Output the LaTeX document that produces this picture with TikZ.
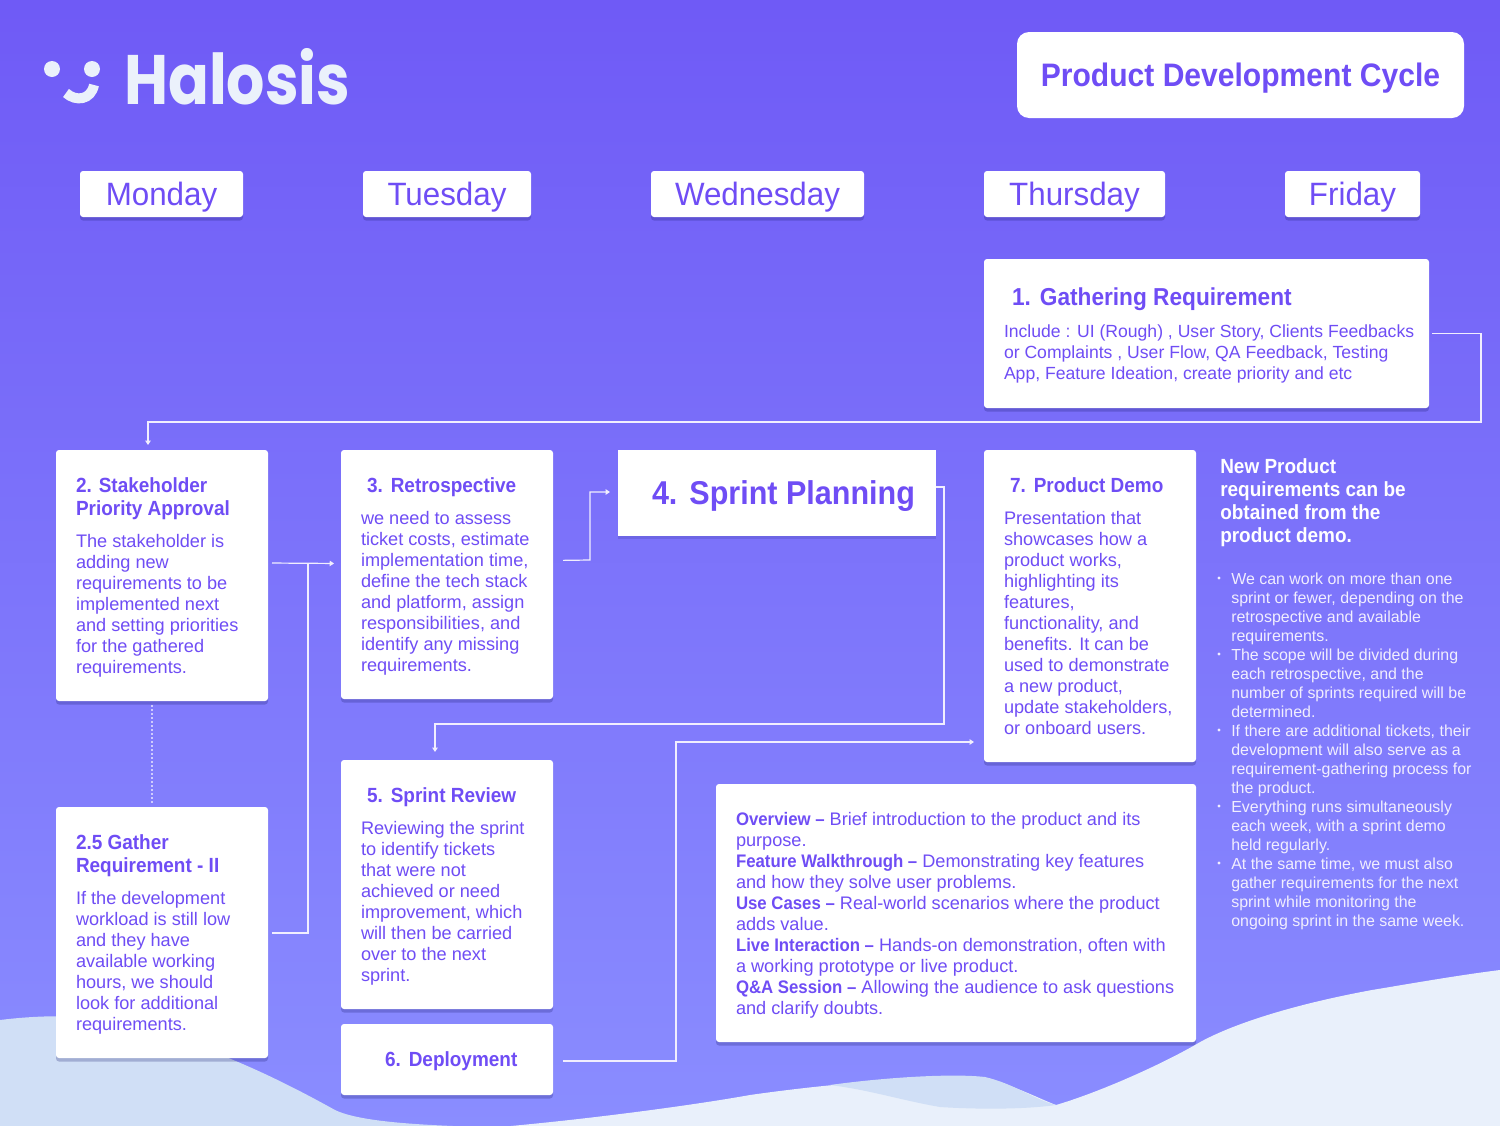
\documentclass[tikz,border=0pt]{standalone}
\usepackage{fontspec}
\usetikzlibrary{shadows,arrows.meta}
\setmainfont{Liberation Sans}[BoldFeatures={FakeStretch=0.925}]
\newfontfamily\logofont{Poppins}[FakeStretch=0.86]
\newfontfamily\dayfont{Liberation Sans}[FakeStretch=0.97]
\newdimen\px \px=0.75pt
\definecolor{bgtop}{HTML}{6F5AF6}
\definecolor{bgbot}{HTML}{8A8DFF}
\definecolor{inkv}{HTML}{6F4DF5}
\definecolor{waveA}{HTML}{D0DFF6}
\definecolor{waveB}{HTML}{E9F0FB}
\definecolor{logoc}{HTML}{EBF1FB}
\definecolor{shadowc}{HTML}{1E1E70}
\tikzset{
  x=0.75pt,y=-0.75pt,
  cardbase/.style={anchor=north west,inner sep=0pt,outer sep=0pt,fill=white,text=inkv},
  softshadow/.style={rounded corners=3\px,general shadow={fill=shadowc,fill opacity=.26,shadow yshift=-3.5\px,rounded corners=3\px}},
  cardextra/.style={softshadow},
  daybox/.style={cardbase,softshadow,align=center},
  conn/.style={draw=white!90!bgtop,line width=1.2\px},
  connarrow/.style={conn,-{Triangle[length=3.2pt,width=4pt]}},
}
% \cardnode{name}{x1}{y1}{x2}{y2}{left pad}{content}
\newcommand\cardnode[7]{%
  \pgfmathsetmacro\cw{#4-#2}\pgfmathsetmacro\ch{#5-#3}%
  \node[cardbase,cardextra] (#1) at (#2,#3) {\parbox[c][\ch\px][t]{\cw\px}{\parindent=0pt\parskip=0pt\leftskip=#6\px\rightskip=0pt plus 1fil\relax #7}};}
\newcommand\ttl[2]{{\fontsize{#1\px}{23\px}\selectfont\bfseries #2\par}}
\newcommand\bdy[1]{{\fontsize{18.15\px}{21\px}\selectfont #1\par}}
\newcommand\bdya[1]{{\fontsize{17.6\px}{21\px}\selectfont #1\par}}
\newcommand\first[1]{\rule{0pt}{#1\px}}
\newcommand\gap{\vspace{11\px}}
\newcommand\sep[1]{\hspace*{#1\px}}
\begin{document}
\begin{tikzpicture}
\useasboundingbox (0,0) rectangle (1500,1125);
\shade[top color=bgtop,bottom color=bgbot] (-2,-2) rectangle (1502,1127);
% waves
\fill[waveA] (0,1020) .. controls (40,1015) and (120,1010) .. (180,1040) .. controls (240,1060) and (290,1085) .. (335,1110) .. controls (360,1122) and (420,1125) .. (480,1127) -- (0,1127) -- cycle;
\fill[waveB] (500,1127) .. controls (600,1118) and (700,1104) .. (750,1095) .. controls (820,1085) and (900,1078) .. (960,1077) .. controls (1000,1077) and (1030,1095) .. (1056,1105) .. controls (1100,1092) and (1160,1065) .. (1195,1045) .. controls (1225,1027) and (1285,1006) .. (1372,990) .. controls (1420,982) and (1460,975) .. (1500,970) -- (1500,1127) -- cycle;
\fill[waveA] (830,1085) .. controls (880,1078) and (950,1073) .. (985,1077) .. controls (1015,1084) and (1035,1100) .. (1056,1105) .. controls (1020,1110) and (970,1109) .. (940,1107) .. controls (900,1100) and (870,1090) .. (830,1085) -- cycle;
% logo
\fill[logoc] (52,69) circle[radius=8];
\fill[logoc] (92,69) circle[radius=8];
\draw[logoc,line width=10\px] (66,93) .. controls (76,102) and (91,100) .. (94,85);
\node[text=logoc,anchor=base west,inner sep=0pt,font=\logofont\bfseries\fontsize{70\px}{70\px}\selectfont] (logo) at (124,104) {Halosis};
% title
\node[anchor=north west,fill=white,rounded corners=12\px,inner sep=0pt,outer sep=0pt,minimum width=447\px,text height=54\px,text depth=32\px,text=inkv,font=\bfseries\fontsize{32.5\px}{36\px}\selectfont] (title) at (1017,32) {Product Development Cycle};
% days
\foreach \nm/\xa/\xb/\lbl in {mon/80/243/Monday,tue/363/531/Tuesday,wed/651/864/Wednesday,thu/984/1165/Thursday,fri/1285/1420/Friday}{
  \pgfmathsetmacro\dw{\xb-\xa}
  \node[daybox,minimum width=\dw\px,text height=34\px,text depth=12\px,font=\dayfont\fontsize{32.3\px}{36\px}\selectfont] (\nm) at (\xa,171) {\lbl};
}
% cards
\cardnode{c1}{984}{259}{1429}{408}{20}{\ttl{24.5}{\first{46}\sep{8}1.\sep{9}Gathering Requirement}\gap
 \bdya{Include : UI (Rough) , User Story, Clients Feedbacks\\or Complaints , User Flow, QA Feedback, Testing\\App, Feature Ideation, create priority and etc}}
\cardnode{c2}{56}{450}{268}{701}{20}{\ttl{20.5}{\first{42}2. Stakeholder\\Priority Approval}\gap
 \bdy{The stakeholder is\\adding new\\requirements to be\\implemented next\\and setting priorities\\for the gathered\\requirements.}}
\cardnode{c25}{56}{807}{268}{1058}{20}{\ttl{20.5}{\first{42}2.5 Gather\\Requirement - II}\gap
 \bdy{If the development\\workload is still low\\and they have\\available working\\hours, we should\\look for additional\\requirements.}}
\cardnode{c3}{341}{450}{553}{699}{20}{\ttl{20.5}{\first{42}\sep{6}3.\sep{8}Retrospective}\gap
 \bdy{we need to assess\\ticket costs, estimate\\implementation time,\\define the tech stack\\and platform, assign\\responsibilities, and\\identify any missing\\requirements.}}
\begin{scope}
\tikzset{cardextra/.style={general shadow={fill=shadowc,fill opacity=.15,shadow yshift=-3\px}}}
\cardnode{c4}{618}{450}{936}{536}{34}{\ttl{33}{\first{54}4.\sep{12}Sprint Planning}}
\end{scope}
\cardnode{c7}{984}{450}{1196}{762}{20}{\ttl{20.5}{\first{42}\sep{6}7.\sep{8}Product Demo}\gap
 \bdy{Presentation that\\showcases how a\\product works,\\highlighting its\\features,\\functionality, and\\benefits. It can be\\used to demonstrate\\a new product,\\update stakeholders,\\or onboard users.}}
\cardnode{c5}{341}{760}{553}{1009}{20}{\ttl{20.5}{\first{42}\sep{6}5.\sep{8}Sprint Review}\gap
 \bdy{Reviewing the sprint\\to identify tickets\\that were not\\achieved or need\\improvement, which\\will then be carried\\over to the next\\sprint.}}
\cardnode{c6}{341}{1024}{553}{1095}{44}{\ttl{20.5}{\first{42}6.\sep{8}Deployment}}
\cardnode{ov}{716}{784}{1196}{1042}{20}{\bdy{\first{41}\textbf{Overview --} Brief introduction to the product and its\\purpose.\\\textbf{Feature Walkthrough --} Demonstrating key features\\and how they solve user problems.\\\textbf{Use Cases --} Real-world scenarios where the product\\adds value.\\\textbf{Live Interaction --} Hands-on demonstration, often with\\a working prototype or live product.\\\textbf{Q\&A Session --} Allowing the audience to ask questions\\and clarify doubts.}}
% side text
\node[anchor=base west,inner sep=0pt,text=white,align=left,font=\bfseries\fontsize{20.5\px}{23\px}\selectfont] (side) at (1220,542) {New Product\\requirements can be\\obtained from the\\product demo.};
\node[anchor=base west,inner sep=0pt,text=white!90!bgtop,align=left,font=\fontsize{15.95\px}{19\px}\selectfont] (notes) at (1231,926) {We can work on more than one\\sprint or fewer, depending on the\\retrospective and available\\requirements.\\The scope will be divided during\\each retrospective, and the\\number of sprints required will be\\determined.\\If there are additional tickets, their\\development will also serve as a\\requirement-gathering process for\\the product.\\Everything runs simultaneously\\each week, with a sprint demo\\held regularly.\\At the same time, we must also\\gather requirements for the next\\sprint while monitoring the\\ongoing sprint in the same week.};
\foreach \yy [count=\i] in {578,654,730,806,863}
  \fill[white!90!bgtop] (1219,\yy) circle[radius=1.6] coordinate (dot\i);
% connectors
\coordinate (b1a) at (1481,333.5);
\coordinate (b1b) at (1481,422);
\coordinate (b1c) at (148,422);
\draw[connarrow,shorten <=3\px,shorten >=5\px] (c1.east) -- (b1a) -- (b1b) -- (b1c) -- (c2.north -| b1c);
\coordinate (j3) at (308,563);
\draw[connarrow,shorten <=4\px,shorten >=7\px] ([yshift=12.5\px]c2.east) -- ([yshift=11\px]c3.west);
\draw[conn,shorten <=4\px] (c25.east |- 0,933) -- (308,933) -- (j3);
\draw[connarrow,shorten <=10\px,shorten >=8\px] ([yshift=14\px]c3.east) -- (590,560) -- (590,492) -- (c4.west |- 0,492);
\draw[connarrow,shorten >=8\px] ([yshift=6\px]c4.east) -- (944,487) -- (944,724) -- (435,724) -- (c5.north -| 435,0);
\draw[connarrow,shorten <=10\px,shorten >=10\px] (c6.east |- 0,1061) -- (676,1061) -- (676,742) -- (c7.west |- 0,742);
\draw[conn,dash pattern=on 2\px off 2\px,draw opacity=.7,line width=1.8\px,shorten <=4\px,shorten >=2\px] (c2.south -| 152,0) -- (c25.north -| 152,0);
\end{tikzpicture}
\end{document}
